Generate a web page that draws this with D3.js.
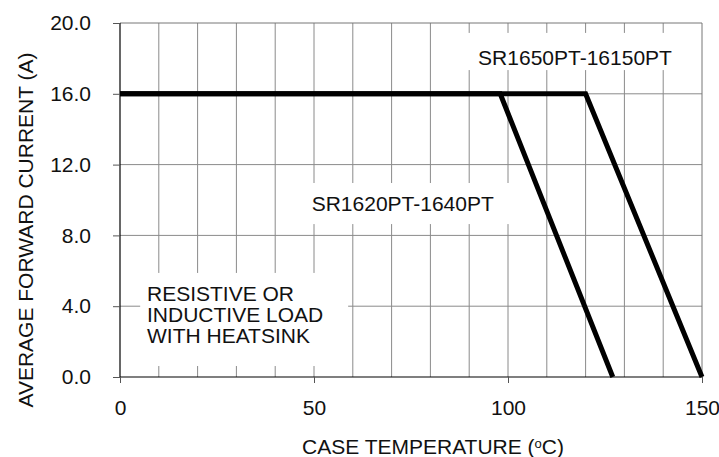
<!DOCTYPE html>
<html>
<head>
<meta charset="utf-8">
<script src="https://cdn.jsdelivr.net/npm/d3@7"></script>
<style>
  body { margin: 0; background: #fff; }
  text { font-family: "Liberation Sans", Arial, sans-serif; fill: #111; }
</style>
</head>
<body>
<div class="chart"></div>
<script>
let margin = {top: 23, bottom: 80, left: 120, right: 17};
let width = 719, height = 457;

// derating curves: case temperature (C) vs average forward current (A)
let lowTemps = [0, 98, 127];
let lowCurrent = [16, 16, 0];
let highTemps = [0, 120, 150];
let highCurrent = [16, 16, 0];

let xTicks = [0, 50, 100, 150];
let yTicks = [0, 4, 8, 12, 16, 20];
let xGrid = d3.range(10, 150, 10);
let yGrid = [4, 8, 12, 16];

let xScale = d3.scaleLinear().domain([0, 150]).range([margin.left, width - margin.right]);
let yScale = d3.scaleLinear().domain([0, 20]).range([height - margin.bottom, margin.top]);

const svg = d3.select(".chart")
  .append("svg")
  .attr("width", width)
  .attr("height", height);

// grid
svg.append("g").selectAll("line")
  .data(xGrid)
  .enter()
  .append("line")
  .attr("x1", d => xScale(d)).attr("x2", d => xScale(d))
  .attr("y1", yScale(0)).attr("y2", yScale(20))
  .attr("stroke", "#8a8a8a").attr("stroke-width", 1);

svg.append("g").selectAll("line")
  .data(yGrid)
  .enter()
  .append("line")
  .attr("x1", xScale(0)).attr("x2", xScale(150))
  .attr("y1", d => yScale(d)).attr("y2", d => yScale(d))
  .attr("stroke", "#8a8a8a").attr("stroke-width", 1);

// top and right frame
svg.append("path")
  .attr("d", "M" + xScale(0) + "," + yScale(20) + "H" + xScale(150) + "V" + yScale(0))
  .attr("fill", "none").attr("stroke", "#777").attr("stroke-width", 1);

// white boxes behind the annotations (data units)
let boxes = [
  {x0: 88.5, x1: 146, y0: 19.44, y1: 17.34},
  {x0: 45, x1: 101, y0: 10.96, y1: 8.64},
  {x0: 5.2, x1: 58.8, y0: 5.88, y1: 0.62}
];
svg.append("g").selectAll("rect")
  .data(boxes)
  .enter()
  .append("rect")
  .attr("x", d => xScale(d.x0))
  .attr("y", d => yScale(d.y0))
  .attr("width", d => xScale(d.x1) - xScale(d.x0))
  .attr("height", d => yScale(d.y1) - yScale(d.y0))
  .attr("fill", "#fff");

// annotations
svg.append("text")
  .attr("x", xScale(92.3)).attr("y", yScale(17.63))
  .style("font-size", "21px")
  .text("SR1650PT-16150PT");

svg.append("text")
  .attr("x", xScale(49.4)).attr("y", yScale(9.38))
  .style("font-size", "21px")
  .text("SR1620PT-1640PT");

let note = svg.append("text")
  .attr("x", xScale(6.96)).attr("y", yScale(4.29))
  .style("font-size", "21px");
["RESISTIVE OR", "INDUCTIVE LOAD", "WITH HEATSINK"].forEach((t, i) => {
  note.append("tspan")
    .attr("x", xScale(6.96))
    .attr("dy", i === 0 ? 0 : 21)
    .text(t);
});

// curves
let line = d3.line().x(d => xScale(d[0])).y(d => yScale(d[1]));
[d3.zip(lowTemps, lowCurrent), d3.zip(highTemps, highCurrent)].forEach(pts => {
  svg.append("path")
    .datum(pts)
    .attr("d", line)
    .attr("fill", "none")
    .attr("stroke", "#000")
    .attr("stroke-width", 5)
    .attr("stroke-linejoin", "miter");
});

// axes
let yAxis = svg.append("g")
  .attr("transform", "translate(" + xScale(0) + ",0)")
  .call(d3.axisLeft(yScale).tickValues(yTicks).tickFormat(d3.format(".1f")).tickSize(7).tickPadding(22));

let xAxis = svg.append("g")
  .attr("transform", "translate(0," + yScale(0) + ")")
  .call(d3.axisBottom(xScale).tickValues(xTicks).tickSize(6).tickPadding(17));

[yAxis, xAxis].forEach(ax => {
  ax.select(".domain").attr("stroke", "#000").attr("stroke-width", 1.2);
  ax.selectAll(".tick line").attr("stroke", "#555");
  ax.selectAll(".tick text")
    .style("font-size", "21px")
    .style("font-family", "'Liberation Sans', Arial, sans-serif")
    .attr("fill", "#111");
});
yAxis.select(".domain").attr("d", "M0," + yScale(0) + "V" + yScale(20));
xAxis.select(".domain").attr("d", "M" + xScale(0) + ",0H" + xScale(150));

// titles
let xt = svg.append("text")
  .attr("x", 302).attr("y", 454)
  .style("font-size", "21px");
xt.append("tspan").text("CASE TEMPERATURE (");
xt.append("tspan").attr("dy", -6).style("font-size", "13px").text("o");
xt.append("tspan").attr("dy", 6).text("C)");

svg.append("text")
  .attr("transform", "translate(33,230) rotate(-90)")
  .attr("text-anchor", "middle")
  .style("font-size", "21px")
  .text("AVERAGE FORWARD CURRENT (A)");
</script>
</body>
</html>
